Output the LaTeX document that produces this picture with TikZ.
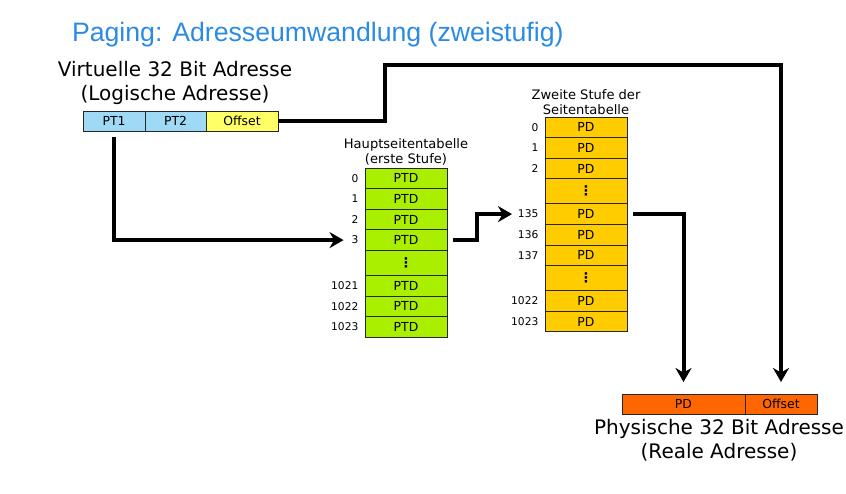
\documentclass[tikz,border=0pt]{standalone}
\usepackage{fontspec}
\setmainfont{DejaVu Sans}
\newfontfamily\titlefont{Liberation Sans}
\usetikzlibrary{positioning, arrows.meta}

\definecolor{titleblue}{HTML}{2B8BE2}
\definecolor{ptblue}{HTML}{9ED9F6}
\definecolor{offyellow}{HTML}{FFFF66}
\definecolor{ptdgreen}{HTML}{AAEE00}
\definecolor{pdgold}{HTML}{FFCC00}
\definecolor{physorange}{HTML}{FF6600}

\begin{document}
\begin{tikzpicture}[
            x = 0.75pt, y = -0.75pt,
            every node/.style = {inner sep = 0pt, outer sep = 0pt},
            cell/.style = {
                draw = black!85,
                line width = 0.6pt,
                rectangle,
                minimum height = 15.45pt,
                font = \fontsize{9.3}{11}\selectfont
            },
            ptd/.style = {cell, fill = ptdgreen, minimum width = 61.5pt},
            pd/.style = {cell, fill = pdgold, minimum width = 61.5pt},
            dotrow/.style = {minimum height = 18.75pt, font = \fontsize{10}{10}\bfseries},
            idx/.style = {left = 5pt of #1, font = \fontsize{8}{9}\selectfont},
            head/.style = {align = center, font = \fontsize{9.8}{11.25}\selectfont},
            label/.style = {align = center, font = \fontsize{15}{18}\selectfont},
            arr/.style = {line width = 3pt, -{Stealth[length = 10.5pt, width = 12pt]}}
        ]
            \useasboundingbox (0,0) rectangle (846,493);

            % title
            \node[anchor = west, text = titleblue, font = \titlefont\fontsize{20}{24}\selectfont]
                (title) at (72,35) {Paging: Adresseumwandlung (zweistufig)};

            % virtual address
            \node[label] (vlabel) at (175,83) {Virtuelle 32 Bit Adresse\\(Logische Adresse)};
            \node[cell, fill = ptblue, minimum width = 46.5pt, minimum height = 15pt] (pt1) at (114,121) {PT1};
            \node[cell, fill = ptblue, minimum width = 45.75pt, minimum height = 15pt, right = 0pt of pt1] (pt2) {PT2};
            \node[cell, fill = offyellow, minimum width = 54pt, minimum height = 15pt, right = 0pt of pt2] (voff) {Offset};

            % first level
            \node[ptd] (m0) at (406,178.3) {PTD};
            \node[ptd, below = 0pt of m0] (m1) {PTD};
            \node[ptd, below = 0pt of m1] (m2) {PTD};
            \node[ptd, below = 0pt of m2] (m3) {PTD};
            \node[ptd, dotrow, below = 0pt of m3] (mdots) {⋮};
            \node[ptd, below = 0pt of mdots] (m1021) {PTD};
            \node[ptd, below = 0pt of m1021] (m1022) {PTD};
            \node[ptd, below = 0pt of m1022] (m1023) {PTD};
            \node[head, above = 2pt of m0] (mhead) {Hauptseitentabelle\\(erste Stufe)};

            \node[idx = m0] (i0) {0};
            \node[idx = m1] (i1) {1};
            \node[idx = m2] (i2) {2};
            \node[idx = m3] (i3) {3};
            \node[idx = m1021] (i1021) {1021};
            \node[idx = m1022] (i1022) {1022};
            \node[idx = m1023] (i1023) {1023};

            % second level
            \node[pd] (s0) at (586,127.3) {PD};
            \node[pd, below = 0pt of s0] (s1) {PD};
            \node[pd, below = 0pt of s1] (s2) {PD};
            \node[pd, dotrow, below = 0pt of s2] (sdotsa) {⋮};
            \node[pd, below = 0pt of sdotsa] (s135) {PD};
            \node[pd, below = 0pt of s135] (s136) {PD};
            \node[pd, below = 0pt of s136] (s137) {PD};
            \node[pd, dotrow, below = 0pt of s137] (sdotsb) {⋮};
            \node[pd, below = 0pt of sdotsb] (s1022) {PD};
            \node[pd, below = 0pt of s1022] (s1023) {PD};
            \node[head, above = 2pt of s0] (shead) {Zweite Stufe der\\Seitentabelle};

            \node[idx = s0] (j0) {0};
            \node[idx = s1] (j1) {1};
            \node[idx = s2] (j2) {2};
            \node[idx = s135] (j135) {135};
            \node[idx = s136] (j136) {136};
            \node[idx = s137] (j137) {137};
            \node[idx = s1022] (j1022) {1022};
            \node[idx = s1023] (j1023) {1023};

            % physical address
            \node[cell, fill = physorange, minimum width = 92.25pt, minimum height = 15pt] (phpd) at (683.5,404) {PD};
            \node[cell, fill = physorange, minimum width = 54pt, minimum height = 15pt, right = 0pt of phpd] (phoff) {Offset};
            \node[label] (plabel) at (719,440) {Physische 32 Bit Adresse\\(Reale Adresse)};

            % connectors
            \coordinate (rise) at (385,65);
            \draw[arr] ([yshift = -4.5pt]pt1.south) |- ([xshift = -6pt]i3.west);
            \draw[arr] ([xshift = 4.5pt]m3.east) -- ++(24,0) |- ([xshift = -4.5pt]j135.west);
            \draw[arr] ([xshift = 4.5pt]s135.east) -| ([yshift = 9pt]phpd.north);
            \draw[arr] (voff.east) -| (rise) -| ([yshift = 9pt]phoff.north);
        \end{tikzpicture}
\end{document}
